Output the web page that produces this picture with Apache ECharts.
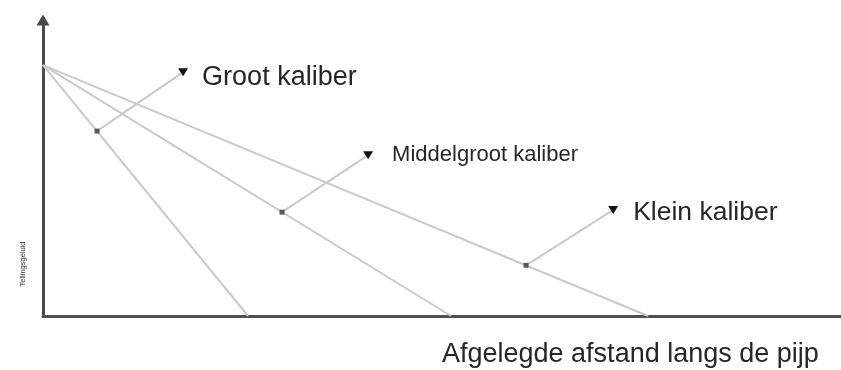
<!DOCTYPE html>
<html>
<head>
<meta charset="utf-8">
<script src="https://cdn.jsdelivr.net/npm/echarts@6/dist/echarts.min.js"></script>
<style>
  html, body { margin: 0; padding: 0; background: #fff; }
  #chart { width: 841px; height: 370px; }
</style>
</head>
<body>
<div id="chart"></div>
<script>
// data (x: distance along pipe, y: counting noise)
const calibers = ['Groot kaliber', 'Middelgroot kaliber', 'Klein kaliber']
const startPoint = [0, 1]
const lineEnds = [1.01, 2.01, 2.98]
const markerPoints = [[0.266, 0.737], [1.177, 0.414], [2.379, 0.202]]
const labelPoints = [[0.690, 0.972], [1.601, 0.641], [2.808, 0.423]]
const xTitle = 'Afgelegde afstand langs de pijp'
const yTitle = 'Tellingsgeluid'

// label look per caliber
const labelFont = [27, 22, 26.5]
const labelShift = [[0, 5], [0, 0], [0, 3]]
const labelGap = [14, 19, 15]

const FONT = '"Liberation Sans", Arial, sans-serif'
const LINE_GRAY = '#c9c9c9'
const TEXT = '#262626'

const myChart = echarts.init(document.getElementById('chart'))

let series = []
calibers.forEach((name, i) => {
  // decay line
  series.push({
    type: 'line',
    name: name,
    data: [startPoint, [lineEnds[i], 0]],
    symbol: 'none',
    lineStyle: { color: LINE_GRAY, width: 2 },
    silent: true,
    z: 2
  })
  // leader from point on the line to the label marker
  series.push({
    type: 'line',
    data: [markerPoints[i], labelPoints[i]],
    symbol: 'none',
    lineStyle: { color: LINE_GRAY, width: 2 },
    silent: true,
    z: 2
  })
})

series.push({
  type: 'scatter',
  data: markerPoints,
  symbol: 'rect',
  symbolSize: 5,
  itemStyle: { color: '#3a3a3a' },
  silent: true,
  z: 4
})

series.push({
  type: 'scatter',
  data: labelPoints.map((p, i) => ({
    value: p,
    label: {
      distance: labelGap[i],
      offset: labelShift[i],
      formatter: calibers[i],
      fontSize: labelFont[i]
    }
  })),
  label: {
    show: true,
    position: 'right',
    fontFamily: FONT,
    color: TEXT,
    opacity: 1,
    textBorderWidth: 0
  },
  symbol: 'triangle',
  symbolRotate: 180,
  symbolSize: [10, 8],
  itemStyle: { color: '#111', opacity: 1 },
  silent: true,
  z: 5
})

myChart.setOption({
  animation: false,
  grid: { left: 43, right: 0, top: 20, bottom: 54 },
  xAxis: {
    type: 'value',
    min: 0,
    max: 3.93,
    axisLine: { lineStyle: { color: '#4f4f4f', width: 3 } },
    axisTick: { show: false },
    axisLabel: { show: false },
    splitLine: { show: false }
  },
  yAxis: {
    type: 'value',
    min: 0,
    max: 1.18,
    axisLine: {
      show: true,
      symbol: ['none', 'triangle'],
      symbolSize: [13, 11],
      lineStyle: { color: '#4a4a4a', width: 3 }
    },
    axisTick: { show: false },
    axisLabel: { show: false },
    splitLine: { show: false }
  },
  graphic: [
    {
      type: 'text',
      x: 442,
      y: 355,
      style: {
        text: xTitle,
        font: '27px ' + FONT,
        fill: TEXT,
        verticalAlign: 'middle'
      }
    },
    {
      type: 'text',
      x: 23,
      y: 264,
      rotation: Math.PI / 2,
      style: {
        text: yTitle,
        font: '7.5px ' + FONT,
        fill: '#333',
        align: 'center',
        verticalAlign: 'middle'
      }
    }
  ],
  series: series
})
</script>
</body>
</html>
